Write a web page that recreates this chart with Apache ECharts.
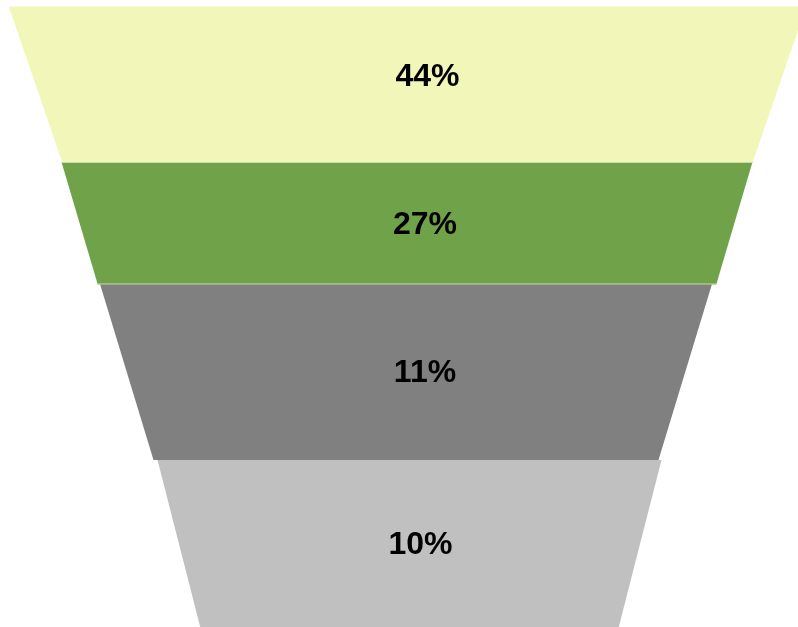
<!DOCTYPE html>
<html>
<head>
<meta charset="utf-8">
<script src="https://cdn.jsdelivr.net/npm/echarts@6/dist/echarts.min.js"></script>
<style>
  html, body { margin: 0; padding: 0; background: #ffffff; }
  #chart { width: 798px; height: 627px; }
</style>
</head>
<body>
<div id="chart"></div>
<script>
// Funnel stages, top to bottom
const stageLabels = ['44%', '27%', '11%', '10%'];
const stageShares = [44, 27, 11, 10];
// Depth of each stage along the funnel axis
const stageDepth = [155.5, 122.5, 175.5, 167.5];
// Width of each stage at its upper and lower rim
const rimTopWidth = [797.5, 691, 611.7, 504];
const rimBottomWidth = [690.7, 618.5, 505, 418.3];
// Horizontal centre of each stage
const stageCentre = [0, -0.5, -1.5, 2];

// Styling
const stageColors = ['#F2F7B9', '#70A249', '#808080', '#C0C0C0'];
const edgeColors = [null, '#C9DDA6', null, null];
const labelShiftX = [20, 18, 19, 11];
const labelShiftY = [-7, 1.5, 0.5, 1.5];

// Build rows: [start, end, topWidth, bottomWidth, centre, share]
const rows = [];
let depth = 0;
stageDepth.forEach(function (d, i) {
  rows.push([depth, depth + d, rimTopWidth[i], rimBottomWidth[i], stageCentre[i], stageShares[i]]);
  depth += d;
});

function renderItem(params, api) {
  const i = params.dataIndex;
  const y0 = api.value(0), y1 = api.value(1);
  const wt = api.value(2), wb = api.value(3), c = api.value(4);
  const tl = api.coord([c - wt / 2, y0]);
  const tr = api.coord([c + wt / 2, y0]);
  const br = api.coord([c + wb / 2, y1]);
  const bl = api.coord([c - wb / 2, y1]);
  const children = [{
    type: 'polygon',
    shape: { points: [tl, tr, br, bl] },
    style: { fill: stageColors[i] }
  }];
  if (edgeColors[i]) {
    children.push({
      type: 'line',
      shape: { x1: tl[0], y1: tl[1] + 0.5, x2: tr[0], y2: tr[1] + 0.5 },
      style: { stroke: edgeColors[i], lineWidth: 1 }
    });
    children.push({
      type: 'line',
      shape: { x1: bl[0], y1: bl[1] - 0.5, x2: br[0], y2: br[1] - 0.5 },
      style: { stroke: edgeColors[i], lineWidth: 1 }
    });
  }
  const mid = api.coord([c, (y0 + y1) / 2]);
  children.push({
    type: 'text',
    style: {
      text: stageLabels[i],
      x: mid[0] + labelShiftX[i],
      y: mid[1] + labelShiftY[i],
      align: 'center',
      verticalAlign: 'middle',
      fill: '#000000',
      font: 'bold 32px "Liberation Sans", Arial, sans-serif'
    },
    z2: 10
  });
  return { type: 'group', children: children };
}

const chart = echarts.init(document.getElementById('chart'), null, { renderer: 'canvas' });
chart.setOption({
  animation: false,
  backgroundColor: '#ffffff',
  grid: { left: 0, right: 0, top: 0, bottom: 0 },
  xAxis: { type: 'value', min: -407.5, max: 390.5, show: false },
  yAxis: { type: 'value', min: -6.5, max: 620.5, inverse: true, show: false },
  series: [{
    type: 'custom',
    renderItem: renderItem,
    clip: true,
    encode: { x: [2, 3], y: [0, 1] },
    data: rows
  }]
});
</script>
</body>
</html>
